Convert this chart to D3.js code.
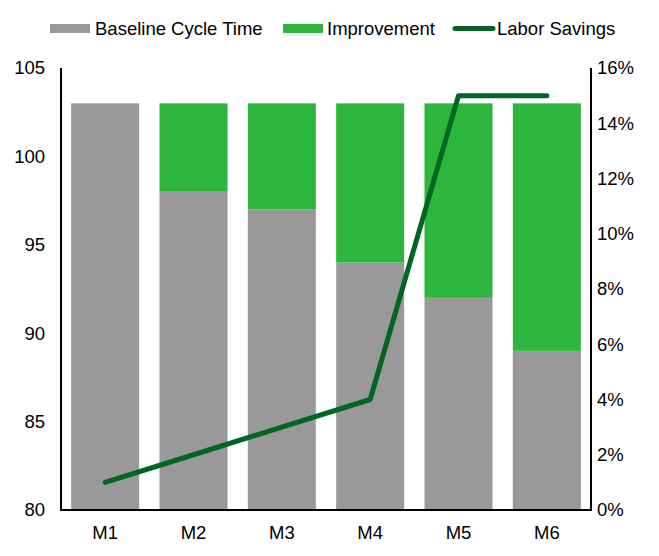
<!DOCTYPE html>
<html>
<head>
<meta charset="utf-8">
<script src="https://cdn.jsdelivr.net/npm/d3@7"></script>
<style>
  body { margin: 0; background: #fff; }
  text { font-family: "Liberation Sans", Arial, sans-serif; fill: #000; }
</style>
</head>
<body>
<svg id="chart" width="659" height="556"></svg>
<script>
// chart data
const months = ["M1", "M2", "M3", "M4", "M5", "M6"];
const baseline = [103, 98, 97, 94, 92, 89];
const improvement = [0, 5, 6, 9, 11, 14];
const laborSavings = [0.01, 0.02, 0.03, 0.04, 0.15, 0.15];
const leftTicks = [80, 85, 90, 95, 100, 105];
const rightTicks = [0, 0.02, 0.04, 0.06, 0.08, 0.10, 0.12, 0.14, 0.16];

const colors = { base: "#999999", improve: "#2DB63E", line: "#006622" };
const fontSize = "18.5px";

const svg = d3.select("#chart");
const margin = { top: 68, right: 68, bottom: 46, left: 61 };
const width = 659 - margin.left - margin.right;
const height = 556 - margin.top - margin.bottom;

const g = svg.append("g").attr("transform", `translate(${margin.left},${margin.top})`);

const x = d3.scaleBand().domain(months).range([0, width]).paddingInner(0.23).paddingOuter(0.115);
const y = d3.scaleLinear().domain([80, 105]).range([height, 0]);
const y2 = d3.scaleLinear().domain([0, 0.16]).range([height, 0]);

// stacked bars
const rows = months.map((m, i) => ({ m, base: baseline[i], imp: improvement[i] }));

g.selectAll("rect.base")
  .data(rows)
  .join("rect")
  .attr("class", "base")
  .attr("x", (d) => x(d.m))
  .attr("width", x.bandwidth())
  .attr("y", (d) => y(d.base))
  .attr("height", (d) => y(80) - y(d.base))
  .attr("fill", colors.base);

g.selectAll("rect.imp")
  .data(rows.filter((d) => d.imp > 0))
  .join("rect")
  .attr("class", "imp")
  .attr("x", (d) => x(d.m))
  .attr("width", x.bandwidth())
  .attr("y", (d) => y(d.base + d.imp))
  .attr("height", (d) => y(d.base) - y(d.base + d.imp))
  .attr("fill", colors.improve);

// line on right axis
const line = d3.line()
  .x((d, i) => x(months[i]) + x.bandwidth() / 2)
  .y((d) => y2(d));

g.append("path")
  .datum(laborSavings)
  .attr("d", line)
  .attr("fill", "none")
  .attr("stroke", colors.line)
  .attr("stroke-width", 5)
  .attr("stroke-linecap", "round")
  .attr("stroke-linejoin", "round");

// axes
const styleAxis = (sel) => {
  sel.selectAll("text").style("font-size", fontSize);
  sel.select(".domain").remove();
};

g.append("g")
  .call(d3.axisLeft(y).tickValues(leftTicks).tickSize(0).tickPadding(16))
  .call(styleAxis);

g.append("g")
  .attr("transform", `translate(${width},0)`)
  .call(d3.axisRight(y2).tickValues(rightTicks).tickSize(0).tickPadding(6).tickFormat(d3.format(".0%")))
  .call(styleAxis);

g.append("g")
  .attr("transform", `translate(0,${height})`)
  .call(d3.axisBottom(x).tickSize(0).tickPadding(16))
  .call(styleAxis);

// axis lines
const axisLines = [
  [0, 0, 0, height],
  [width, 0, width, height],
  [-1, height, width + 1, height]
];
g.selectAll("line.axis")
  .data(axisLines)
  .join("line")
  .attr("class", "axis")
  .attr("x1", (d) => d[0]).attr("y1", (d) => d[1])
  .attr("x2", (d) => d[2]).attr("y2", (d) => d[3])
  .attr("stroke", "#000").attr("stroke-width", 2);

// legend
const legendItems = [
  { label: "Baseline Cycle Time", color: colors.base, type: "rect", x: 50, tx: 95 },
  { label: "Improvement", color: colors.improve, type: "rect", x: 283, tx: 327 },
  { label: "Labor Savings", color: colors.line, type: "line", x: 453, tx: 497 }
];

const legend = svg.append("g");
legendItems.forEach((it) => {
  if (it.type === "rect") {
    legend.append("rect")
      .attr("x", it.x).attr("y", 24).attr("width", 40).attr("height", 9)
      .attr("fill", it.color);
  } else {
    legend.append("line")
      .attr("x1", it.x + 2).attr("x2", it.x + 40).attr("y1", 28.5).attr("y2", 28.5)
      .attr("stroke", it.color).attr("stroke-width", 5).attr("stroke-linecap", "round");
  }
  legend.append("text")
    .attr("x", it.tx).attr("y", 35)
    .style("font-size", fontSize)
    .text(it.label);
});
</script>
</body>
</html>
